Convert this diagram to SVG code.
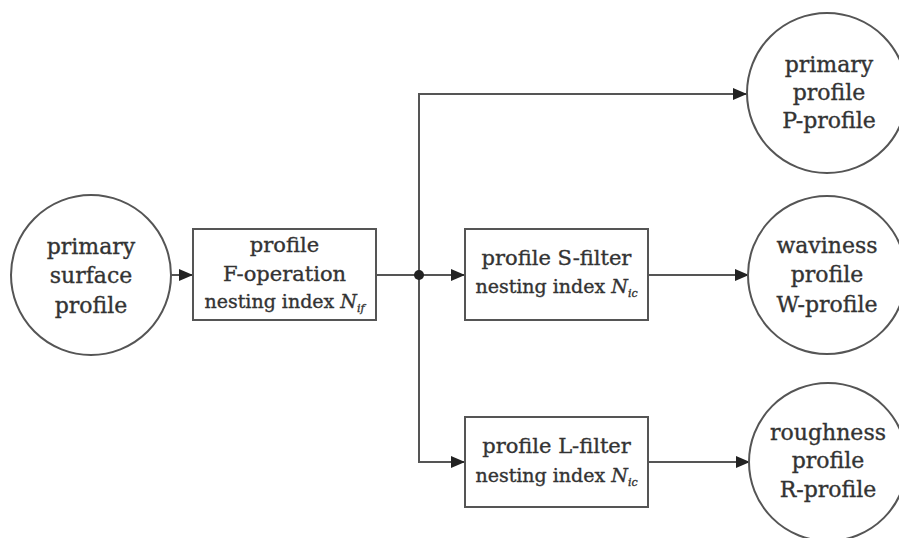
<svg xmlns="http://www.w3.org/2000/svg" width="899" height="538" viewBox="0 0 899 538">
<style>
.shape{fill:#fff;stroke:#555;stroke-width:2}
.ln{fill:none;stroke:#555;stroke-width:2}
text{font-family:"DejaVu Serif","Liberation Serif",serif;fill:#333;stroke:#333;stroke-width:0.35;text-anchor:middle}
.c{font-size:22px}
.b{font-size:21px}
.n{font-size:19px}
.s{font-size:11px;font-style:italic}
.i{font-style:italic}
</style>
<defs>
<marker id="ah" viewBox="0 0 14 12" refX="14" refY="6" markerWidth="14" markerHeight="12" markerUnits="userSpaceOnUse" orient="auto">
<path d="M0,0 L14,6 L0,12 Z" fill="#222"/>
</marker>
</defs>
<g id="connectors">
<line class="ln" x1="171" y1="275" x2="193" y2="275" marker-end="url(#ah)"/>
<line class="ln" x1="376" y1="275" x2="465" y2="275" marker-end="url(#ah)"/>
<polyline class="ln" points="419,275 419,94 747,94" marker-end="url(#ah)"/>
<polyline class="ln" points="419,275 419,462 465,462" marker-end="url(#ah)"/>
<line class="ln" x1="648" y1="275" x2="749" y2="275" marker-end="url(#ah)"/>
<line class="ln" x1="648" y1="462" x2="750" y2="462" marker-end="url(#ah)"/>
<circle cx="419" cy="275" r="5" fill="#222"/>
</g>
<g id="primary-surface-profile">
<circle class="shape" cx="91" cy="275" r="80"/>
<text class="c" x="91" y="254">primary</text>
<text class="c" x="91" y="283">surface</text>
<text class="c" x="91" y="313">profile</text>
</g>
<g id="f-operation">
<rect class="shape" x="193" y="229" width="183" height="91"/>
<text class="b" x="284.5" y="252">profile</text>
<text class="b" x="284.5" y="281">F-operation</text>
<text class="n" x="284.5" y="308">nesting index <tspan class="i">N</tspan><tspan class="s" dy="4">if</tspan></text>
</g>
<g id="s-filter">
<rect class="shape" x="465" y="229" width="183" height="91"/>
<text class="b" x="556.5" y="265">profile S-filter</text>
<text class="n" x="556.5" y="293">nesting index <tspan class="i">N</tspan><tspan class="s" dy="4">ic</tspan></text>
</g>
<g id="l-filter">
<rect class="shape" x="465" y="417" width="183" height="90"/>
<text class="b" x="556.5" y="453">profile L-filter</text>
<text class="n" x="556.5" y="482">nesting index <tspan class="i">N</tspan><tspan class="s" dy="4">ic</tspan></text>
</g>
<g id="p-profile">
<circle class="shape" cx="827" cy="93" r="80"/>
<text class="c" x="829" y="72">primary</text>
<text class="c" x="829" y="100">profile</text>
<text class="c" x="829" y="128">P-profile</text>
</g>
<g id="w-profile">
<circle class="shape" cx="827" cy="275" r="79"/>
<text class="c" x="827" y="253">waviness</text>
<text class="c" x="827" y="282">profile</text>
<text class="c" x="827" y="312">W-profile</text>
</g>
<g id="r-profile">
<circle class="shape" cx="828" cy="462" r="79"/>
<text class="c" x="828" y="440">roughness</text>
<text class="c" x="828" y="468">profile</text>
<text class="c" x="828" y="497">R-profile</text>
</g>
</svg>
